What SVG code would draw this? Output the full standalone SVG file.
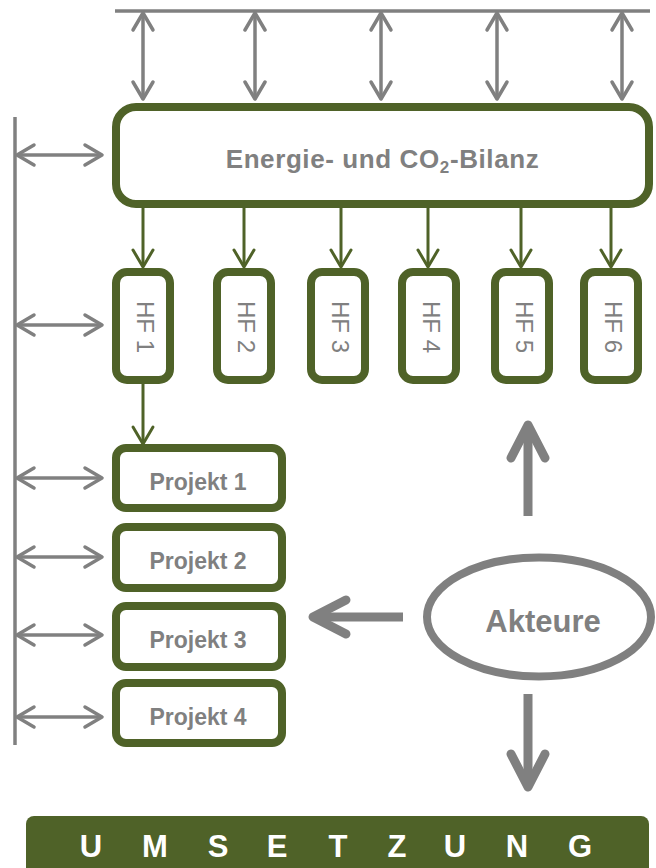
<svg xmlns="http://www.w3.org/2000/svg" width="656" height="868" viewBox="0 0 656 868">
  <style>
    .box { fill: #FFFFFF; stroke: #4F6228; stroke-width: 8; }
    .gline { stroke: #808080; stroke-width: 3.5; fill: none; }
    .gthick { stroke: #808080; stroke-width: 9; fill: none; }
    .green { stroke: #4F6228; stroke-width: 3; fill: none; }
    .lbl { font-family: "Liberation Sans", Arial, sans-serif; fill: #808080; }
    .b { font-weight: bold; }
    .hf { font-size: 24px; text-anchor: middle; }
  </style>
  <defs>
    <marker id="ahGray" markerUnits="userSpaceOnUse" viewBox="-22 -13 26 26" markerWidth="26" markerHeight="26" refX="-1.5" refY="0" orient="auto-start-reverse" overflow="visible">
      <path d="M -17,-10 L 0,0 L -17,10" fill="none" stroke="#808080" stroke-width="3.5" stroke-linecap="round" stroke-linejoin="round"/>
    </marker>
    <marker id="ahGreen" markerUnits="userSpaceOnUse" viewBox="-22 -13 26 26" markerWidth="26" markerHeight="26" refX="-1.5" refY="0" orient="auto" overflow="visible">
      <path d="M -17,-10 L 0,0 L -17,10" fill="none" stroke="#4F6228" stroke-width="3" stroke-linecap="round" stroke-linejoin="round"/>
    </marker>
    <marker id="ahBig" markerUnits="userSpaceOnUse" viewBox="-42 -24 48 48" markerWidth="48" markerHeight="48" refX="-4" refY="0" orient="auto" overflow="visible">
      <path d="M -33,-17 L 0,0 L -33,17" fill="none" stroke="#808080" stroke-width="9" stroke-linecap="round" stroke-linejoin="round"/>
    </marker>
  </defs>

  <g id="connectors">
    <line class="gline" x1="115" y1="11" x2="650" y2="11"/>
    <line class="gline" x1="143" y1="14.5" x2="143" y2="97.5" marker-start="url(#ahGray)" marker-end="url(#ahGray)"/>
    <line class="gline" x1="255" y1="14.5" x2="255" y2="97.5" marker-start="url(#ahGray)" marker-end="url(#ahGray)"/>
    <line class="gline" x1="381" y1="14.5" x2="381" y2="97.5" marker-start="url(#ahGray)" marker-end="url(#ahGray)"/>
    <line class="gline" x1="497" y1="14.5" x2="497" y2="97.5" marker-start="url(#ahGray)" marker-end="url(#ahGray)"/>
    <line class="gline" x1="622" y1="14.5" x2="622" y2="97.5" marker-start="url(#ahGray)" marker-end="url(#ahGray)"/>
    <line class="gline" x1="15" y1="117" x2="15" y2="745"/>
    <line class="gline" x1="18.5" y1="155" x2="100.5" y2="155" marker-start="url(#ahGray)" marker-end="url(#ahGray)"/>
    <line class="gline" x1="18.5" y1="325" x2="100.5" y2="325" marker-start="url(#ahGray)" marker-end="url(#ahGray)"/>
    <line class="gline" x1="18.5" y1="478" x2="100.5" y2="478" marker-start="url(#ahGray)" marker-end="url(#ahGray)"/>
    <line class="gline" x1="18.5" y1="557" x2="100.5" y2="557" marker-start="url(#ahGray)" marker-end="url(#ahGray)"/>
    <line class="gline" x1="18.5" y1="635" x2="100.5" y2="635" marker-start="url(#ahGray)" marker-end="url(#ahGray)"/>
    <line class="gline" x1="18.5" y1="717" x2="100.5" y2="717" marker-start="url(#ahGray)" marker-end="url(#ahGray)"/>
    <line class="green" x1="143" y1="208" x2="143" y2="265.5" marker-end="url(#ahGreen)"/>
    <line class="green" x1="244" y1="208" x2="244" y2="265.5" marker-end="url(#ahGreen)"/>
    <line class="green" x1="341" y1="208" x2="341" y2="265.5" marker-end="url(#ahGreen)"/>
    <line class="green" x1="428" y1="208" x2="428" y2="265.5" marker-end="url(#ahGreen)"/>
    <line class="green" x1="521" y1="208" x2="521" y2="265.5" marker-end="url(#ahGreen)"/>
    <line class="green" x1="611" y1="208" x2="611" y2="265.5" marker-end="url(#ahGreen)"/>
    <line class="green" x1="143" y1="384" x2="143" y2="442.5" marker-end="url(#ahGreen)"/>
    <line class="gthick" x1="528" y1="516" x2="528" y2="429" marker-end="url(#ahBig)"/>
    <line class="gthick" x1="403" y1="617" x2="317" y2="617" marker-end="url(#ahBig)"/>
    <line class="gthick" x1="528" y1="694" x2="528" y2="783" marker-end="url(#ahBig)"/>
  </g>

  <g id="bilanz">
    <rect class="box" x="116" y="107" width="533" height="97" rx="20"/>
    <text class="lbl b" x="382.5" y="168" font-size="26" letter-spacing="0.6" text-anchor="middle">Energie- und CO<tspan font-size="17" dy="5">2</tspan><tspan dy="-5">-Bilanz</tspan></text>
  </g>

  <g id="hf1">
    <rect class="box" x="116" y="272" width="54" height="108" rx="11"/>
    <text class="lbl hf" transform="translate(136.5,327) rotate(90)">HF 1</text>
  </g>
  <g id="hf2">
    <rect class="box" x="217" y="272" width="54" height="108" rx="11"/>
    <text class="lbl hf" transform="translate(237.5,327) rotate(90)">HF 2</text>
  </g>
  <g id="hf3">
    <rect class="box" x="311" y="272" width="54" height="108" rx="11"/>
    <text class="lbl hf" transform="translate(331.5,327) rotate(90)">HF 3</text>
  </g>
  <g id="hf4">
    <rect class="box" x="402" y="272" width="54" height="108" rx="11"/>
    <text class="lbl hf" transform="translate(422.5,327) rotate(90)">HF 4</text>
  </g>
  <g id="hf5">
    <rect class="box" x="495" y="272" width="54" height="108" rx="11"/>
    <text class="lbl hf" transform="translate(515.5,327) rotate(90)">HF 5</text>
  </g>
  <g id="hf6">
    <rect class="box" x="584" y="272" width="54" height="108" rx="11"/>
    <text class="lbl hf" transform="translate(604.5,327) rotate(90)">HF 6</text>
  </g>

  <g id="projekt1">
    <rect class="box" x="116" y="448" width="166" height="60" rx="10"/>
    <text class="lbl b" x="198" y="490" font-size="23" text-anchor="middle">Projekt 1</text>
  </g>
  <g id="projekt2">
    <rect class="box" x="116" y="527" width="166" height="61" rx="10"/>
    <text class="lbl b" x="198" y="569" font-size="23" text-anchor="middle">Projekt 2</text>
  </g>
  <g id="projekt3">
    <rect class="box" x="116" y="606" width="166" height="61" rx="10"/>
    <text class="lbl b" x="198" y="648" font-size="23" text-anchor="middle">Projekt 3</text>
  </g>
  <g id="projekt4">
    <rect class="box" x="116" y="683" width="166" height="60" rx="10"/>
    <text class="lbl b" x="198" y="725" font-size="23" text-anchor="middle">Projekt 4</text>
  </g>

  <g id="akteure">
    <ellipse cx="539" cy="617" rx="112" ry="59.5" fill="#FFFFFF" stroke="#808080" stroke-width="8"/>
    <text class="lbl b" x="543" y="632" font-size="31" text-anchor="middle">Akteure</text>
  </g>

  <g id="umsetzung">
    <rect x="26" y="816" width="623" height="62" rx="8" fill="#4F6228"/>
    <text font-family="'Liberation Sans', Arial, sans-serif" font-weight="bold" font-size="31" fill="#FFFFFF" text-anchor="middle" y="857" x="91 123 155 186 218 248 277 307 338 367 397 426 455 486 517 548 580">U M S E T Z U N G</text>
  </g>
</svg>
